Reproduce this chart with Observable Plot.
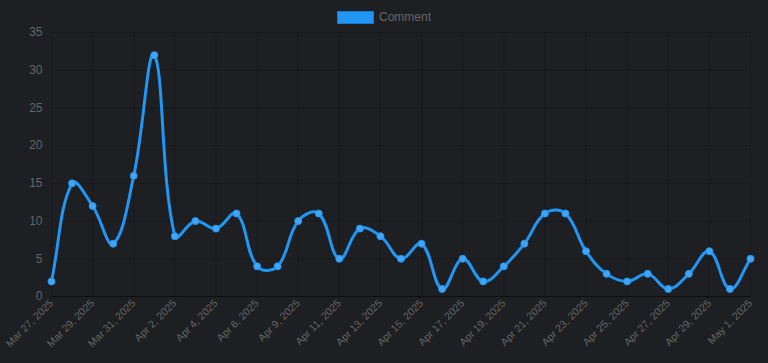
<!DOCTYPE html>
<html><head><meta charset="utf-8">
<script src="https://cdn.jsdelivr.net/npm/d3@7"></script>
<script src="https://cdn.jsdelivr.net/npm/@observablehq/plot@0.6"></script>
<style>
html,body{margin:0;padding:0;background:#1d1f22;}
#wrap{position:relative;width:768px;height:363px;overflow:hidden;}
#legend{position:absolute;left:337px;top:11px;display:flex;align-items:center;font:12px "Liberation Sans",Arial,sans-serif;color:#666;line-height:13px;}
#legend .sw{display:inline-block;width:35px;height:11px;background:#2196f3;border:1px solid #1976d2;margin-right:5px;}
</style></head><body>
<div id="wrap"><div id="legend"><span class="sw"></span>Comment</div></div>
<script>
const dates = ["Mar 27, 2025","Mar 28, 2025","Mar 29, 2025","Mar 30, 2025","Mar 31, 2025","Apr 1, 2025","Apr 2, 2025","Apr 3, 2025","Apr 4, 2025","Apr 5, 2025","Apr 6, 2025","Apr 8, 2025","Apr 9, 2025","Apr 10, 2025","Apr 11, 2025","Apr 12, 2025","Apr 13, 2025","Apr 14, 2025","Apr 15, 2025","Apr 16, 2025","Apr 17, 2025","Apr 18, 2025","Apr 19, 2025","Apr 20, 2025","Apr 21, 2025","Apr 22, 2025","Apr 23, 2025","Apr 24, 2025","Apr 25, 2025","Apr 26, 2025","Apr 27, 2025","Apr 28, 2025","Apr 29, 2025","Apr 30, 2025","May 1, 2025"];
const comments = [2,15,12,7,16,32,8,10,9,11,4,4,10,11,5,9,8,5,7,1,5,2,4,7,11,11,6,3,2,3,1,3,6,1,5];
const yTicks = [0,5,10,15,20,25,30,35];
const xTicks = dates.filter((d,i)=>i%2===0);
const data = dates.map((d,i)=>({date:d, value:comments[i]}));

// Chart.js-style spline (tension 0.4) as a d3-compatible curve factory
function splineCurve(context){
  let pts;
  const t = 0.4;
  return {
    areaStart(){}, areaEnd(){},
    lineStart(){ pts = []; },
    point(x, y){ pts.push([+x, +y]); },
    lineEnd(){
      const n = pts.length;
      if (!n) return;
      const cps = pts.map((p, i) => {
        const a = pts[i-1] || p, c = pts[i+1] || p;
        const d01 = Math.hypot(p[0]-a[0], p[1]-a[1]);
        const d12 = Math.hypot(c[0]-p[0], c[1]-p[1]);
        let s01 = d01/(d01+d12), s12 = d12/(d01+d12);
        if (!isFinite(s01)) s01 = 0; if (!isFinite(s12)) s12 = 0;
        const fa = t*s01, fb = t*s12;
        return {
          prev:[p[0]-fa*(c[0]-a[0]), p[1]-fa*(c[1]-a[1])],
          next:[p[0]+fb*(c[0]-a[0]), p[1]+fb*(c[1]-a[1])]
        };
      });
      context.moveTo(pts[0][0], pts[0][1]);
      for (let i = 1; i < n; i++) {
        const c1 = cps[i-1].next, c2 = cps[i].prev;
        context.bezierCurveTo(c1[0], c1[1], c2[0], c2[1], pts[i][0], pts[i][1]);
      }
    }
  };
}

const plot = Plot.plot({
  width:768, height:363,
  marginLeft:51, marginRight:18, marginTop:32, marginBottom:67,
  style:{background:"transparent", color:"#666", fontFamily:"'Liberation Sans', Arial, sans-serif", fontSize:"12px"},
  x:{type:"point", domain:dates, padding:0, round:false, label:null},
  y:{domain:[0,35], label:null},
  marks:[
    Plot.gridY(yTicks,{stroke:"#000", strokeOpacity:0.18}),
    Plot.gridX(xTicks,{stroke:"#000", strokeOpacity:0.18}),
    Plot.ruleY([0],{stroke:"#000", strokeOpacity:0.4}),
    Plot.axisY(yTicks,{tickSize:0, tickPadding:9, fill:"#666", fontSize:12}),
    Plot.axisX(xTicks,{tickSize:0, tickRotate:-45, tickPadding:5, fill:"#666", fontSize:10.5}),
    Plot.line(data,{x:"date", y:"value", stroke:"#2196f3", strokeWidth:3, curve:splineCurve}),
    Plot.dot(data,{x:"date", y:"value", r:3.5, fill:"#42a5f5", stroke:"#2196f3", strokeWidth:1})
  ]
});
document.getElementById("wrap").appendChild(plot);
plot.style.position="absolute"; plot.style.left="0"; plot.style.top="0";
</script>
</body></html>
